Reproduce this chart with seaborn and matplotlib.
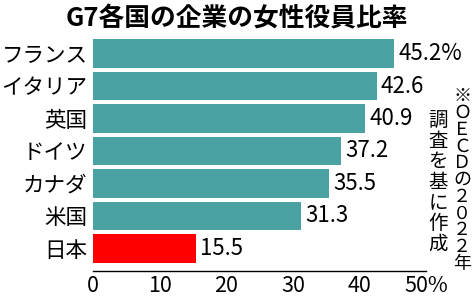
import matplotlib
matplotlib.use("Agg")
import matplotlib.pyplot as plt
import seaborn as sns
import pandas as pd

countries = ["フランス", "イタリア", "英国", "ドイツ", "カナダ", "米国", "日本"]
values = [45.2, 42.6, 40.9, 37.2, 35.5, 31.3, 15.5]
value_labels = ["45.2%", "42.6", "40.9", "37.2", "35.5", "31.3", "15.5"]
tick_values = [0, 10, 20, 30, 40, 50]
tick_labels = ["0", "10", "20", "30", "40", "50%"]
title = "G7各国の企業の女性役員比率"
note_col1 = "※ＯＥＣＤの２０２２年"
note_col2 = "調査を基に作成"

sns.set_theme(style="white")
plt.rcParams['font.family'] = ['Noto Sans CJK JP', 'DejaVu Sans']

teal = "#4aa3a2"
red = "#ff0000"
palette = [red if c == "日本" else teal for c in countries]

df = pd.DataFrame({"country": countries, "value": values})

fig = plt.figure(figsize=(4.74, 2.99), dpi=100)
ax = fig.add_axes([93/474, 1-271/299, (426-93)/474, (271-38)/299])

sns.barplot(data=df, x="value", y="country", hue="country", palette=palette,
            legend=False, width=0.88, ax=ax, saturation=1, edgecolor="none")

ax.set_xlim(0, 50)
ax.set_ylim(6.7, -0.48)
ax.set_xlabel("")
ax.set_ylabel("")
for s in ["top", "right", "left"]:
    ax.spines[s].set_visible(False)
ax.spines["bottom"].set_color("black")
ax.spines["bottom"].set_linewidth(1.0)
ax.set_xticks(tick_values)
ax.set_xticklabels(tick_labels)
ax.tick_params(axis="x", direction="in", length=5, width=1, color="black", pad=3, labelsize=15.5)
ax.tick_params(axis="y", length=0, pad=4, labelsize=15.5)
for lab in ax.get_yticklabels():
    lab.set_color("black")
for lab in ax.get_xticklabels():
    lab.set_color("black")

for i, (v, t) in enumerate(zip(values, value_labels)):
    ax.annotate(t, xy=(v, i), xytext=(3, 0), textcoords="offset points",
                va="center", ha="left", fontsize=16, color="black")

fig.text(0.5, 1-19/299, title, ha="center", va="center", fontsize=18.5,
         fontweight="bold", color="black")

# vertical note (each column one text, one character per line)
fig.text(462/474, 1-87/299, "\n".join(note_col1), ha="center", va="top",
         fontsize=13, color="black", linespacing=0.915, multialignment="center")
fig.text(438/474, 1-110/299, "\n".join(note_col2), ha="center", va="top",
         fontsize=14, color="black", linespacing=0.98, multialignment="center")

fig.savefig("out.png", dpi=100)
